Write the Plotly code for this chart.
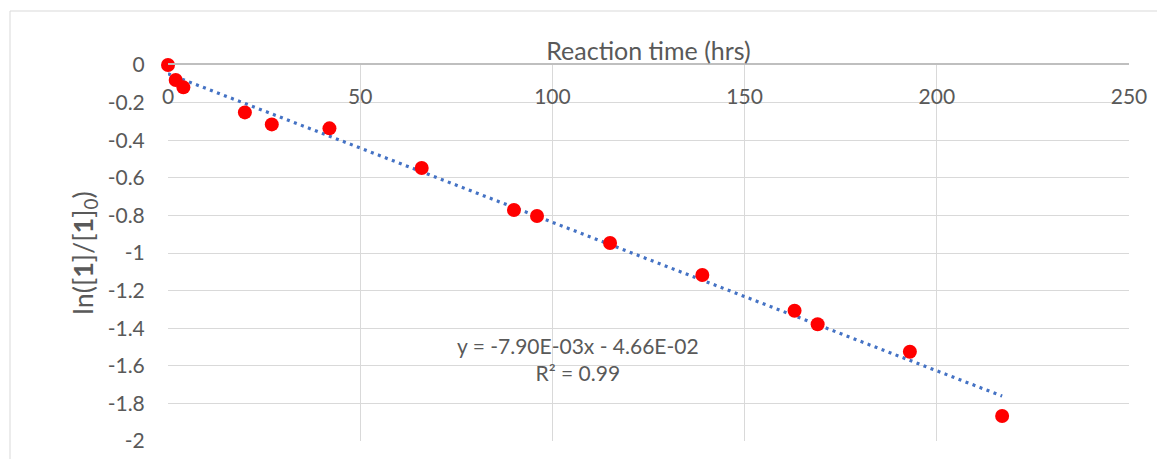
import plotly.graph_objects as go

# Data
time_hrs = [0, 2, 4, 20, 27, 42, 66, 90, 96, 115, 139, 163, 169, 193, 217]
ln_ratio = [0.0, -0.08, -0.119, -0.252, -0.316, -0.337, -0.548, -0.771, -0.803,
            -0.947, -1.117, -1.307, -1.379, -1.525, -1.867]

# Linear trendline coefficients (as printed on the chart)
slope = -7.90e-3
intercept = -4.66e-2
r_squared = 0.99

x_ticks = [0, 50, 100, 150, 200, 250]
y_ticks = [0, -0.2, -0.4, -0.6, -0.8, -1, -1.2, -1.4, -1.6, -1.8, -2]
y_tick_labels = ["0", "-0.2", "-0.4", "-0.6", "-0.8", "-1", "-1.2", "-1.4", "-1.6", "-1.8", "-2"]

FONT = "Lato"
TXT = "#595959"
GRID = "#d9d9d9"

trend_x = [min(time_hrs), max(time_hrs)]
trend_y = [slope * x + intercept for x in trend_x]

fig = go.Figure()
fig.add_trace(go.Scatter(
    x=trend_x, y=trend_y, mode="lines",
    line=dict(color="#4472C4", width=3.2, dash="3px,4.5px"),
    hoverinfo="skip", showlegend=False, cliponaxis=False,
))
fig.add_trace(go.Scatter(
    x=time_hrs, y=ln_ratio, mode="markers",
    marker=dict(color="#FF0000", size=14, line=dict(width=0)),
    showlegend=False, cliponaxis=False,
))

fig.add_annotation(
    x=106.7, y=-1.566, xref="x", yref="y",
    text=f"y = -7.90E-03x - 4.66E-02<br>R² = {r_squared:.2f}",
    showarrow=False, font=dict(family=FONT, size=21, color=TXT), align="center",
)

# outer chart border
fig.add_shape(type="rect", xref="paper", yref="paper",
              x0=-0.1644, x1=1.2, y0=-0.2, y1=1.1436,
              line=dict(color=GRID, width=1), fillcolor="rgba(0,0,0,0)", layer="below")

fig.update_layout(
    width=1157, height=459,
    margin=dict(l=168, r=28, t=65, b=18, pad=0),
    paper_bgcolor="white", plot_bgcolor="white",
    font=dict(family=FONT, size=21, color=TXT),
    xaxis=dict(
        range=[0, 250], tickvals=x_ticks, side="top",
        ticklabelposition="inside", ticklabeloverflow="allow",
        ticks="inside", ticklen=26, tickcolor="rgba(0,0,0,0)",
        showgrid=True, gridcolor=GRID, gridwidth=1,
        showline=True, linecolor="#bfbfbf", linewidth=1.5,
        zeroline=False, automargin=False,
        title=dict(text="Reaction time (hrs)", standoff=16, font=dict(size=25, color=TXT)),
        tickfont=dict(size=21, color=TXT),
    ),
    yaxis=dict(
        range=[-2, 0], tickvals=y_ticks, ticktext=y_tick_labels,
        ticks="outside", ticklen=18, tickcolor="rgba(0,0,0,0)",
        showgrid=True, gridcolor=GRID, gridwidth=1,
        zeroline=False, showline=False, automargin=False,
        title=dict(text="ln([<b>1</b>]/[<b>1</b>]<sub>0</sub>)", standoff=6,
                   font=dict(size=27, color=TXT)),
        tickfont=dict(size=21, color=TXT),
    ),
)

fig.write_html("out.html")
